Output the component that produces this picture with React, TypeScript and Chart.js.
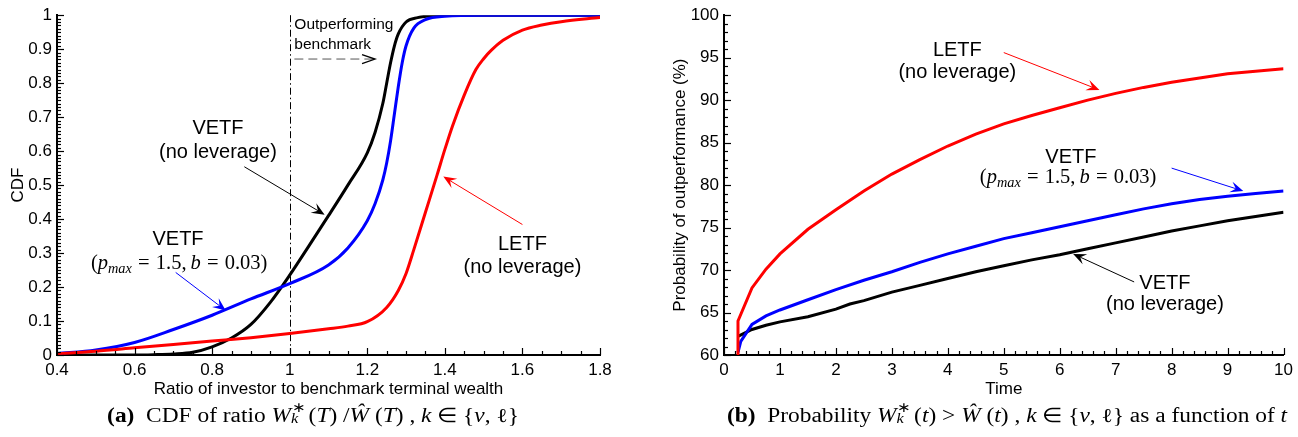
import React, { useEffect, useRef } from "react";
import { Chart, registerables } from "chart.js";

Chart.register(...registerables);

// ===== Panel (a): CDF of ratio of investor to benchmark terminal wealth =====
const cdfVetfNoLevX = [0.4, 0.5, 0.6, 0.65, 0.7, 0.75, 0.8, 0.85, 0.9, 0.95, 1.0, 1.05, 1.1, 1.15, 1.2, 1.22, 1.24, 1.25, 1.26, 1.27, 1.28, 1.3, 1.33, 1.36, 1.4, 1.5, 1.8];
const cdfVetfNoLevY = [0, 0, 0, 0.001, 0.003, 0.008, 0.024, 0.05, 0.09, 0.155, 0.235, 0.322, 0.41, 0.5, 0.595, 0.655, 0.74, 0.8, 0.86, 0.91, 0.945, 0.98, 0.993, 0.998, 1, 1, 1];

const cdfVetfPmaxX = [0.4, 0.5, 0.6, 0.7, 0.8, 0.9, 1.0, 1.1, 1.15, 1.2, 1.22, 1.24, 1.25, 1.26, 1.27, 1.28, 1.29, 1.3, 1.32, 1.35, 1.4, 1.5, 1.8];
const cdfVetfPmaxY = [0.004, 0.015, 0.037, 0.075, 0.117, 0.165, 0.21, 0.265, 0.315, 0.395, 0.445, 0.515, 0.565, 0.63, 0.71, 0.79, 0.86, 0.91, 0.962, 0.987, 0.997, 1, 1];

const cdfLetfX = [0.4, 0.5, 0.6, 0.7, 0.8, 0.9, 1.0, 1.1, 1.15, 1.2, 1.25, 1.28, 1.3, 1.32, 1.35, 1.38, 1.4, 1.42, 1.45, 1.48, 1.5, 1.52, 1.55, 1.6, 1.65, 1.7, 1.8];
const cdfLetfY = [0.004, 0.011, 0.021, 0.031, 0.041, 0.051, 0.063, 0.077, 0.085, 0.098, 0.14, 0.19, 0.24, 0.31, 0.42, 0.53, 0.605, 0.675, 0.765, 0.84, 0.872, 0.897, 0.926, 0.956, 0.971, 0.981, 0.993];

// ===== Panel (b): probability of outperformance (%) vs time =====
const timeLetf = [0.25, 0.25, 0.5, 0.75, 1, 1.5, 2, 2.5, 3, 3.5, 4, 4.5, 5, 5.5, 6, 6.5, 7, 7.5, 8, 8.5, 9, 9.5, 10];
const probLetf = [60, 64.0, 67.9, 70.1, 71.9, 74.8, 77.1, 79.3, 81.3, 83.0, 84.6, 86.0, 87.2, 88.2, 89.1, 90.0, 90.8, 91.5, 92.1, 92.6, 93.1, 93.4, 93.7];

const timeVetfPmax = [0.25, 0.3, 0.5, 0.75, 1, 1.5, 2, 2.5, 3, 3.5, 4, 4.5, 5, 5.5, 6, 6.5, 7, 7.5, 8, 8.5, 9, 9.5, 10];
const probVetfPmax = [60.3, 61.6, 63.6, 64.6, 65.3, 66.5, 67.7, 68.8, 69.8, 70.9, 71.9, 72.8, 73.7, 74.4, 75.1, 75.8, 76.5, 77.2, 77.8, 78.3, 78.7, 79.0, 79.3];

const timeVetfNoLev = [0.25, 0.5, 0.75, 1, 1.5, 2, 2.25, 2.5, 3, 3.5, 4, 4.5, 5, 5.5, 6, 6.5, 7, 7.5, 8, 8.5, 9, 9.5, 10];
const probVetfNoLev = [62.2, 63.0, 63.5, 63.9, 64.5, 65.4, 66.0, 66.4, 67.4, 68.2, 69.0, 69.8, 70.5, 71.2, 71.8, 72.5, 73.2, 73.9, 74.6, 75.2, 75.8, 76.3, 76.8];

const RED = "#ff0000";
const BLUE = "#0000ff";
const BLACK = "#000000";
const SANS = '"Liberation Sans", Arial, Helvetica, sans-serif';
const SERIF = '"Liberation Serif", "Times New Roman", serif';

type Txt = { x: number; y: number; text: string; size: number; align?: CanvasTextAlign };
type Arrow = { x1: number; y1: number; x2: number; y2: number; color: string; dashed?: boolean };
type MathLbl = { x: number; y: number; size: number };
type Decor = {
  xMinor: number; xMajor: number; yMinor: number; yMajor: number;
  vline?: number;
  texts: Txt[]; arrows: Arrow[]; maths: MathLbl[];
};

// annotation layout (data coordinates)
const decorA: Decor = {
  xMinor: 0.05, xMajor: 0.2, yMinor: 0.01, yMajor: 0.1,
  vline: 1,
  texts: [
    { x: 1.012, y: 0.973, text: "Outperforming", size: 15.5, align: "left" },
    { x: 1.012, y: 0.914, text: "benchmark", size: 15.5, align: "left" },
    { x: 0.815, y: 0.666, text: "VETF", size: 20 },
    { x: 0.815, y: 0.595, text: "(no leverage)", size: 20 },
    { x: 0.712, y: 0.34, text: "VETF", size: 20 },
    { x: 1.6, y: 0.326, text: "LETF", size: 20 },
    { x: 1.6, y: 0.258, text: "(no leverage)", size: 20 },
  ],
  arrows: [
    { x1: 1.012, y1: 0.871, x2: 1.22, y2: 0.871, color: BLACK, dashed: true },
    { x1: 0.883, y1: 0.554, x2: 1.09, y2: 0.413, color: BLACK },
    { x1: 0.706, y1: 0.243, x2: 0.835, y2: 0.131, color: BLUE },
    { x1: 1.6, y1: 0.384, x2: 1.396, y2: 0.525, color: RED },
  ],
  maths: [{ x: 0.715, y: 0.272, size: 20.5 }],
};

const decorB: Decor = {
  xMinor: 0.2, xMajor: 1, yMinor: 1, yMajor: 5,
  texts: [
    { x: 4.17, y: 95.8, text: "LETF", size: 20 },
    { x: 4.17, y: 93.3, text: "(no leverage)", size: 20 },
    { x: 6.2, y: 83.3, text: "VETF", size: 20 },
    { x: 7.88, y: 68.4, text: "VETF", size: 20 },
    { x: 7.88, y: 66.0, text: "(no leverage)", size: 20 },
  ],
  arrows: [
    { x1: 5.0, y1: 95.6, x2: 6.71, y2: 91.2, color: RED },
    { x1: 8.0, y1: 82.0, x2: 9.28, y2: 79.3, color: BLUE },
    { x1: 7.33, y1: 68.6, x2: 6.24, y2: 71.9, color: BLACK },
  ],
  maths: [{ x: 6.15, y: 81.0, size: 20.5 }],
};

function drawArrow(ctx: CanvasRenderingContext2D, x1: number, y1: number, x2: number, y2: number, color: string, dashed?: boolean) {
  const ang = Math.atan2(y2 - y1, x2 - x1);
  const L = 13;
  const W = 5.5;
  const c = Math.cos(ang), s = Math.sin(ang);
  ctx.save();
  ctx.lineWidth = 1;
  ctx.strokeStyle = dashed ? "#555" : color;
  if (dashed) ctx.setLineDash([9, 5]);
  ctx.beginPath();
  ctx.moveTo(x1, y1);
  ctx.lineTo(x2 - c * (dashed ? 2 : L * 0.6), y2 - s * (dashed ? 2 : L * 0.6));
  ctx.stroke();
  ctx.setLineDash([]);
  const bx = x2 - c * L, by = y2 - s * L;
  const px = -s, py = c;
  if (dashed) {
    ctx.strokeStyle = BLACK;
    ctx.lineWidth = 1.3;
    ctx.beginPath();
    ctx.moveTo(bx + px * 4.5, by + py * 4.5);
    ctx.lineTo(x2, y2);
    ctx.lineTo(bx - px * 4.5, by - py * 4.5);
    ctx.stroke();
  } else {
    ctx.fillStyle = color;
    ctx.beginPath();
    ctx.moveTo(x2, y2);
    ctx.lineTo(bx + px * W, by + py * W);
    ctx.lineTo(x2 - c * L * 0.6, y2 - s * L * 0.6);
    ctx.lineTo(bx - px * W, by - py * W);
    ctx.closePath();
    ctx.fill();
  }
  ctx.restore();
}

function drawMath(ctx: CanvasRenderingContext2D, cx: number, cy: number, size: number) {
  const tokens: { t: string; it?: boolean; sub?: boolean; gap?: number }[] = [
    { t: "(" },
    { t: "p", it: true },
    { t: "max", it: true, sub: true },
    { t: "=", gap: 0.3 },
    { t: "1.5,", gap: 0.3 },
    { t: "b", it: true, gap: 0.2 },
    { t: "=", gap: 0.3 },
    { t: "0.03)", gap: 0.3 },
  ];
  const fontOf = (tk: { it?: boolean; sub?: boolean }) =>
    `${tk.it ? "italic " : ""}${tk.sub ? size * 0.7 : size}px ${SERIF}`;
  let total = 0;
  const widths: number[] = [];
  tokens.forEach((tk) => {
    ctx.font = fontOf(tk);
    const w = ctx.measureText(tk.t).width;
    widths.push(w);
    total += w + (tk.gap || 0) * size;
  });
  let x = cx - total / 2;
  ctx.save();
  ctx.fillStyle = BLACK;
  ctx.textAlign = "left";
  ctx.textBaseline = "alphabetic";
  const base = cy + size * 0.33;
  tokens.forEach((tk, i) => {
    x += (tk.gap || 0) * size;
    ctx.font = fontOf(tk);
    ctx.fillText(tk.t, x, tk.sub ? base + size * 0.2 : base);
    x += widths[i];
  });
  ctx.restore();
}

function decorPlugin(cfg: Decor) {
  return {
    id: "decor",
    beforeDatasetsDraw(chart: any) {
      if (cfg.vline == null) return;
      const { ctx } = chart;
      const xs = chart.scales.x, ys = chart.scales.y;
      const px = Math.round(xs.getPixelForValue(cfg.vline)) + 0.5;
      ctx.save();
      ctx.strokeStyle = BLACK;
      ctx.lineWidth = 1;
      ctx.setLineDash([7, 3, 1.5, 3]);
      ctx.beginPath();
      ctx.moveTo(px, ys.getPixelForValue(ys.max));
      ctx.lineTo(px, ys.getPixelForValue(ys.min));
      ctx.stroke();
      ctx.restore();
    },
    afterDatasetsDraw(chart: any) {
      const { ctx, chartArea } = chart;
      const xs = chart.scales.x, ys = chart.scales.y;
      ctx.save();
      ctx.strokeStyle = BLACK;
      ctx.lineWidth = 1.2;
      const nx = Math.round((xs.max - xs.min) / cfg.xMinor);
      for (let i = 0; i <= nx; i++) {
        const v = xs.min + i * cfg.xMinor;
        const r = v / cfg.xMajor;
        const major = Math.abs(r - Math.round(r)) < 1e-6;
        const p = Math.round(xs.getPixelForValue(v)) + 0.5;
        ctx.beginPath();
        ctx.moveTo(p, chartArea.bottom);
        ctx.lineTo(p, chartArea.bottom - (major ? 7 : 4));
        ctx.stroke();
      }
      const ny = Math.round((ys.max - ys.min) / cfg.yMinor);
      for (let i = 0; i <= ny; i++) {
        const v = ys.min + i * cfg.yMinor;
        const r = v / cfg.yMajor;
        const major = Math.abs(r - Math.round(r)) < 1e-6;
        const p = Math.round(ys.getPixelForValue(v)) + 0.5;
        ctx.beginPath();
        ctx.moveTo(chartArea.left, p);
        ctx.lineTo(chartArea.left + (major ? 7 : 4), p);
        ctx.stroke();
      }
      ctx.restore();

      cfg.arrows.forEach((a) =>
        drawArrow(ctx, xs.getPixelForValue(a.x1), ys.getPixelForValue(a.y1), xs.getPixelForValue(a.x2), ys.getPixelForValue(a.y2), a.color, a.dashed)
      );

      ctx.save();
      ctx.fillStyle = BLACK;
      ctx.textBaseline = "middle";
      cfg.texts.forEach((t) => {
        ctx.font = `${t.size}px ${SANS}`;
        ctx.textAlign = t.align || "center";
        ctx.fillText(t.text, xs.getPixelForValue(t.x), ys.getPixelForValue(t.y));
      });
      ctx.restore();

      cfg.maths.forEach((m) => drawMath(ctx, xs.getPixelForValue(m.x), ys.getPixelForValue(m.y), m.size));
    },
  };
}

const pts = (xs: number[], ys: number[]) => xs.map((x, i) => ({ x, y: ys[i] }));

const fmtTick = (v: any) => String(Math.round(Number(v) * 1000) / 1000);

function axis(min: number, max: number, step: number, title: string, titlePad: any, fit: (s: any) => void) {
  return {
    type: "linear" as const,
    min,
    max,
    afterFit: fit,
    ticks: { stepSize: step, color: BLACK, font: { size: 17, family: SANS }, padding: 5, autoSkip: false, maxRotation: 0, callback: fmtTick },
    grid: { display: true, drawOnChartArea: false, drawTicks: false },
    border: { display: true, color: BLACK, width: 2 },
    title: { display: true, text: title, color: BLACK, font: { size: 17, family: SANS }, padding: titlePad },
  };
}

function lineDs(label: string, data: any[], color: string, smooth: boolean) {
  return {
    label,
    data,
    borderColor: color,
    backgroundColor: color,
    borderWidth: 3,
    pointRadius: 0,
    fill: false,
    tension: 0,
    cubicInterpolationMode: smooth ? ("monotone" as const) : ("default" as const),
  };
}

function configA(): any {
  return {
    type: "line",
    data: {
      datasets: [
        lineDs("LETF (no leverage)", pts(cdfLetfX, cdfLetfY), RED, true),
        lineDs("VETF (pmax=1.5, b=0.03)", pts(cdfVetfPmaxX, cdfVetfPmaxY), BLUE, true),
        lineDs("VETF (no leverage)", pts(cdfVetfNoLevX, cdfVetfNoLevY), BLACK, true),
      ],
    },
    options: {
      responsive: false,
      animation: false,
      devicePixelRatio: 1,
      layout: { padding: { left: 0, top: 14, right: 45, bottom: 0 } },
      plugins: { legend: { display: false }, tooltip: { enabled: false } },
      scales: {
        x: axis(0.4, 1.8, 0.2, "Ratio of investor to benchmark terminal wealth", { top: 0, bottom: 2 }, (s) => { s.height = 47; }),
        y: axis(0, 1, 0.1, "CDF", { top: 8, bottom: 0 }, (s) => { s.width = 57; }),
      },
    },
    plugins: [decorPlugin(decorA)],
  };
}

function configB(): any {
  return {
    type: "line",
    data: {
      datasets: [
        lineDs("LETF (no leverage)", pts(timeLetf, probLetf), RED, false),
        lineDs("VETF (pmax=1.5, b=0.03)", pts(timeVetfPmax, probVetfPmax), BLUE, false),
        lineDs("VETF (no leverage)", pts(timeVetfNoLev, probVetfNoLev), BLACK, false),
      ],
    },
    options: {
      responsive: false,
      animation: false,
      devicePixelRatio: 1,
      layout: { padding: { left: 15, top: 14, right: 9, bottom: 0 } },
      plugins: { legend: { display: false }, tooltip: { enabled: false } },
      scales: {
        x: axis(0, 10, 1, "Time", { top: 0, bottom: 2 }, (s) => { s.height = 47; }),
        y: axis(60, 100, 5, "Probability of outperformance (%)", { top: 10, bottom: 0 }, (s) => { s.width = 64; }),
      },
    },
    plugins: [decorPlugin(decorB)],
  };
}

function ChartCanvas(props: { make: () => any; left: number; width: number; height: number }) {
  const ref = useRef<HTMLCanvasElement>(null);
  useEffect(() => {
    const chart = new Chart(ref.current as HTMLCanvasElement, props.make());
    return () => chart.destroy();
  }, []);
  return (
    <canvas
      ref={ref}
      width={props.width}
      height={props.height}
      style={{ position: "absolute", left: props.left, top: 0, width: props.width, height: props.height }}
    />
  );
}

function SupSub({ sup, sub }: { sup: string; sub: string }) {
  return (
    <span style={{ position: "relative", display: "inline-block", width: "0.5em", height: "1em" }}>
      <span style={{ position: "absolute", left: "0.05em", top: "-0.05em", fontSize: "0.7em", lineHeight: 1 }}>{sup}</span>
      <i style={{ position: "absolute", left: 0, top: "0.72em", fontSize: "0.7em", lineHeight: 1 }}>{sub}</i>
    </span>
  );
}

const captionStyle: React.CSSProperties = {
  position: "absolute",
  top: 402,
  fontFamily: SERIF,
  fontSize: 20,
  lineHeight: "24px",
  whiteSpace: "nowrap",
  textAlign: "center",
  color: BLACK,
  transform: "scaleX(1.17)",
  transformOrigin: "50% 50%",
};

export default function App() {
  return (
    <div style={{ position: "absolute", left: 0, top: 0, width: 1298, height: 437, background: "#fff", overflow: "hidden" }}>
      <ChartCanvas make={configA} left={0} width={645} height={402} />
      <ChartCanvas make={configB} left={645} width={653} height={402} />
      <div style={{ ...captionStyle, left: 13, width: 600 }}>
        <b>(a)</b>&nbsp; CDF of ratio <i>W</i>
        <SupSub sup="∗" sub="k" /> (<i>T</i>) /<i>Ŵ</i> (<i>T</i>) , <i>k</i> ∈ {"{"}
        <i>v</i>, ℓ{"}"}
      </div>
      <div style={{ ...captionStyle, left: 707, width: 600 }}>
        <b>(b)</b>&nbsp; Probability <i>W</i>
        <SupSub sup="∗" sub="k" /> (<i>t</i>) &gt; <i>Ŵ</i> (<i>t</i>) , <i>k</i> ∈ {"{"}
        <i>v</i>, ℓ{"}"} as a function of <i>t</i>
      </div>
    </div>
  );
}
